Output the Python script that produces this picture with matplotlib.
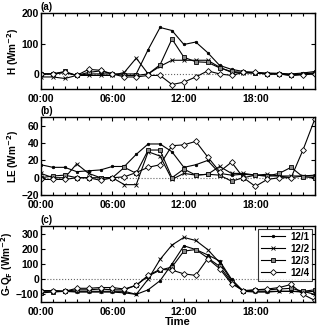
import numpy as np
import matplotlib
matplotlib.use('Agg')
import matplotlib.pyplot as plt
from matplotlib.ticker import MultipleLocator, FuncFormatter

plt.rcParams['font.family'] = ['Liberation Sans', 'DejaVu Sans']
plt.rcParams['font.weight'] = 'bold'
plt.rcParams['mathtext.default'] = 'bf'

hours = np.arange(24)
days = ['12/1', '12/2', '12/3', '12/4']

# sensible heat flux H (W m-2)
H_d1 = [0, 0, 5, -5, 0, 0, 0, 0, 0, 80, 153, 143, 97, 105, 70, 28, 15, 8, 5, 3, 2, 0, 3, 8]
H_d2 = [-10, -10, -15, -5, -5, -5, -5, 5, 52, 0, 25, 45, 45, 45, 45, 22, 5, 3, 3, 0, 0, -3, 0, 3]
H_d3 = [0, 0, 8, -5, 5, 10, 0, -5, -5, 0, 30, 115, 55, 40, 38, 20, 8, 5, 3, 0, 0, -5, 0, 3]
H_d4 = [0, 0, 5, -5, 15, 12, 0, -10, -10, -5, -5, -35, -27, -10, 10, 0, -5, 5, 5, 0, 0, -5, -3, 0]

# latent heat flux LE (W m-2)
LE_d1 = [15, 12, 12, 7, 8, 9, 13, 13, 27, 39, 39, 30, 12, 15, 20, 5, 3, 4, 3, 2, 2, 0, 2, 3]
LE_d2 = [5, 0, 0, 16, 5, 0, 0, -8, -8, 30, 25, -2, 5, 3, 4, 13, 5, 5, 3, 4, 2, 2, 2, 2]
LE_d3 = [0, 2, 3, 0, 0, 0, 0, 12, 5, 32, 32, 0, 10, 3, 4, 3, -4, 0, 3, 2, 5, 12, 1, 0]
LE_d4 = [-2, -2, -2, 0, 0, -3, 0, 1, 6, 12, 15, 37, 38, 42, 24, 7, 18, 0, -10, -2, 0, 0, 32, 68]

# ground heat minus anthropogenic heat G-QF (W m-2)
G_d1 = [-80, -80, -80, -85, -85, -85, -85, -90, -100, -70, -10, 100, 220, 195, 160, 120, 0, -80, -85, -85, -80, -80, -85, -80]
G_d2 = [-75, -75, -80, -80, -80, -80, -80, -80, -100, 0, 130, 225, 275, 255, 195, 110, -10, -80, -80, -80, -80, -80, -80, -100]
G_d3 = [-90, -85, -80, -70, -70, -65, -70, -70, -40, 20, 60, 80, 185, 195, 140, 85, -20, -80, -70, -70, -65, -60, -80, -70]
G_d4 = [-75, -75, -80, -60, -60, -55, -55, -65, -40, 25, 65, 60, 35, 25, 135, 70, -30, -75, -70, -65, -55, -35, -100, -140]

markers = ['.', 'x', 's', 'D']
msizes = [3.5, 3, 3, 3]
mfaces = ['black', 'black', '#888888', 'white']


def style_axis(ax, ylim, ystep, ylabel, tag):
    ax.axhline(0, color='#666666', linestyle=':', linewidth=0.8, zorder=0)
    ax.set_xlim(0, 23)
    ax.set_ylim(*ylim)
    ax.xaxis.set_major_locator(MultipleLocator(6))
    ax.xaxis.set_minor_locator(MultipleLocator(1))
    ax.yaxis.set_major_locator(MultipleLocator(ystep))
    ax.xaxis.set_major_formatter(FuncFormatter(lambda v, p: '%02d:00' % int(v)))
    ax.tick_params(which='both', direction='in', top=True, right=True, labelsize=7.5, width=0.8)
    ax.tick_params(axis='x', pad=3.5)
    ax.tick_params(axis='y', pad=1.5)
    ax.tick_params(which='major', length=3)
    ax.tick_params(which='minor', length=2)
    for s in ax.spines.values():
        s.set_linewidth(1.0)
    ax.set_ylabel(ylabel, fontsize=7.2, fontweight='bold', labelpad=0.5)
    ax.text(0.0, 1.01, tag, transform=ax.transAxes, fontsize=7, fontweight='bold',
            ha='left', va='bottom')


def draw(ax, series):
    for vals, lab, m, ms, mf in zip(series, days, markers, msizes, mfaces):
        ax.plot(hours, vals, color='black', linewidth=0.8, marker=m, markersize=ms,
                markerfacecolor=mf, markeredgecolor='black', markeredgewidth=0.6, label=lab)


fig = plt.figure(figsize=(3.2, 3.3), dpi=100)
ax1 = fig.add_axes([0.128, 0.730, 0.856, 0.230])
ax2 = fig.add_axes([0.128, 0.409, 0.856, 0.236])
ax3 = fig.add_axes([0.128, 0.085, 0.856, 0.230])

draw(ax1, [H_d1, H_d2, H_d3, H_d4])
style_axis(ax1, (-50, 200), 100, 'H (Wm$^{-2}$)', '(a)')

draw(ax2, [LE_d1, LE_d2, LE_d3, LE_d4])
style_axis(ax2, (-20, 70), 20, 'LE (Wm$^{-2}$)', '(b)')

draw(ax3, [G_d1, G_d2, G_d3, G_d4])
style_axis(ax3, (-150, 350), 100, 'G-Q$_{F}$ (Wm$^{-2}$)', '(c)')
ax3.set_xlabel('Time', fontsize=8, fontweight='bold', labelpad=0)

leg = ax3.legend(loc='upper right', fontsize=7, frameon=True, fancybox=False,
                 edgecolor='black', handlelength=2.5, borderpad=0.3, labelspacing=0.2,
                 handletextpad=0.5, borderaxespad=0.3)
leg.get_frame().set_linewidth(0.8)

fig.savefig('out.png', dpi=100)
